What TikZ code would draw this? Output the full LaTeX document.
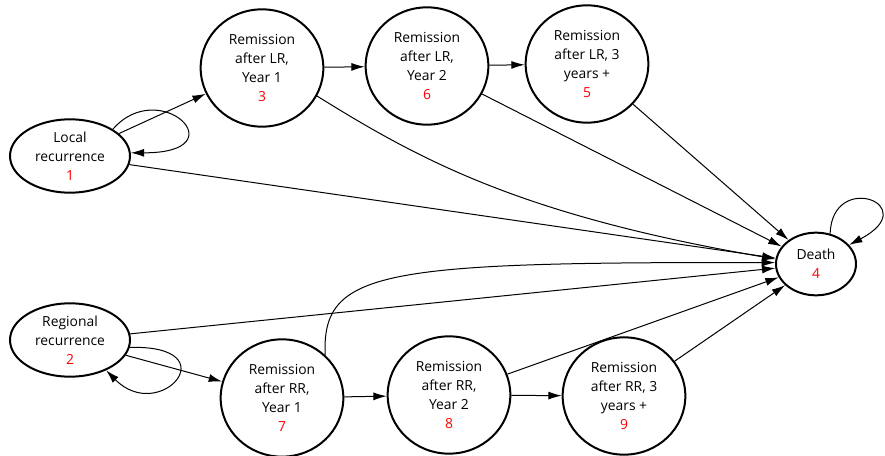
\documentclass[tikz,border=0pt]{standalone}
\usepackage{fontspec}
\setmainfont{Open Sans}
\usetikzlibrary{arrows.meta,shapes.geometric}
\newcommand{\statenr}[1]{\textcolor{red}{#1}}
\begin{document}
\begin{tikzpicture}[x=0.75pt,y=-0.75pt,line width=0.75pt,
      arr/.style={-{Latex[length=10pt,width=6pt]}},
      oval/.style={draw,line width=1.5pt,inner sep=0pt,align=center,
        font=\fontsize{10.4}{14.25}\selectfont},
      remi/.style={oval,minimum width=92pt,minimum height=88pt}]
    \useasboundingbox (0,0) rectangle (885,456);
    \node[oval,minimum width=90pt,minimum height=55pt] at (70,156) [ellipse] (S1) {Local\\recurrence\\\statenr{1}};
    \node[oval,minimum width=90pt,minimum height=55pt] at (70,340) [ellipse] (S2) {Regional\\recurrence\\\statenr{2}};
    \node[remi] at (262,68) [ellipse] (S3) {Remission\\after LR,\\Year 1\\\statenr{3}};
    \node[remi] at (427,66) [ellipse] (S6) {Remission\\after LR,\\Year 2\\\statenr{6}};
    \node[remi] at (587,64) [ellipse] (S5) {Remission\\after LR, 3\\years +\\\statenr{5}};
    \node[remi] at (282,398) [ellipse] (S7) {Remission\\after RR,\\Year 1\\\statenr{7}};
    \node[remi] at (449,395) [ellipse] (S8) {Remission\\after RR,\\Year 2\\\statenr{8}};
    \node[remi] at (624,396) [ellipse] (S9) {Remission\\after RR, 3\\years +\\\statenr{9}};
    \node[oval,minimum width=60pt,minimum height=47pt] at (816,264) [ellipse] (S4) {Death\\\statenr{4}};
    \draw[arr] (S1.32) .. controls (160,75) and (240,153) .. (S1.3);
    \draw[arr] (S2.-7) .. controls (230,345) and (160,425) .. (S2.-40);
    \draw[arr] (S4.65) .. controls (832,170) and (925,205) .. (S4.30);
    \draw[arr] (S1) -- (S3);
    \draw[arr] (S1) -- (S4);
    \draw[arr] (S3) -- (S6);
    \draw[arr] (S6) -- (S5);
    \draw[arr] (S3.-27) .. controls (420,160) and (520,215) .. (S4.173);
    \draw[arr] (S6) -- (S4);
    \draw[arr] (S5) -- (S4);
    \draw[arr] (S2) -- (S4);
    \draw[arr] (S2) -- (S7);
    \draw[arr] (S7.45) .. controls (322,270) and (380,262) .. (S4.178);
    \draw[arr] (S7) -- (S8);
    \draw[arr] (S8) -- (S9);
    \draw[arr] (S8) -- (S4);
    \draw[arr] (S9) -- (S4);
  \end{tikzpicture}
\end{document}
